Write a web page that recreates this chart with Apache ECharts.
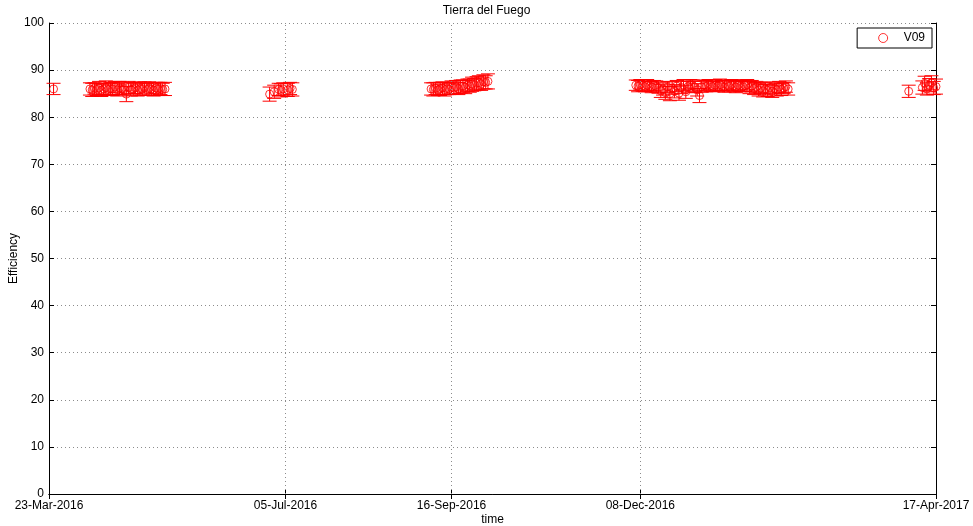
<!DOCTYPE html>
<html>
<head>
<meta charset="utf-8">
<script src="https://cdn.jsdelivr.net/npm/echarts@6/dist/echarts.min.js"></script>
<style>
html,body{margin:0;padding:0;background:#fff;}
#chart{width:973px;height:526px;}
</style>
</head>
<body>
<div id="chart"></div>
<script>
// ---- data ----
const chartTitle = 'Tierra del Fuego';
const seriesName = 'V09';
const tickDates = ['2016-03-23', '2016-07-05', '2016-09-16', '2016-12-08', '2017-04-17'];
const tickLabels = ['23-Mar-2016', '05-Jul-2016', '16-Sep-2016', '08-Dec-2016', '17-Apr-2017'];
const yTicks = [0, 10, 20, 30, 40, 50, 60, 70, 80, 90, 100];

const obsDates = [
  '2016-03-25',
  '2016-04-10','2016-04-11','2016-04-12','2016-04-13','2016-04-14','2016-04-15','2016-04-16','2016-04-17','2016-04-18','2016-04-19',
  '2016-04-20','2016-04-21','2016-04-22','2016-04-23','2016-04-24','2016-04-25','2016-04-26','2016-04-27','2016-04-28','2016-04-29',
  '2016-04-30','2016-05-01','2016-05-02','2016-05-03','2016-05-04','2016-05-05','2016-05-06','2016-05-07','2016-05-08','2016-05-09',
  '2016-05-10','2016-05-11','2016-05-12','2016-05-13',
  '2016-06-28','2016-06-30','2016-07-02','2016-07-03','2016-07-04','2016-07-06','2016-07-07','2016-07-08',
  '2016-09-07','2016-09-08','2016-09-09','2016-09-10','2016-09-11','2016-09-12','2016-09-13','2016-09-14','2016-09-15','2016-09-16',
  '2016-09-17','2016-09-18','2016-09-19','2016-09-20','2016-09-21','2016-09-22','2016-09-23','2016-09-24','2016-09-25','2016-09-26',
  '2016-09-27','2016-09-28','2016-09-29','2016-09-30','2016-10-01','2016-10-02',
  '2016-12-06','2016-12-07','2016-12-08','2016-12-09','2016-12-10','2016-12-11','2016-12-12','2016-12-13','2016-12-14','2016-12-15',
  '2016-12-16','2016-12-17','2016-12-18','2016-12-19','2016-12-20','2016-12-21','2016-12-22','2016-12-23','2016-12-24','2016-12-25',
  '2016-12-26','2016-12-27','2016-12-28','2016-12-29','2016-12-30','2016-12-31',
  '2017-01-01','2017-01-02','2017-01-03','2017-01-04','2017-01-05','2017-01-06','2017-01-07','2017-01-08','2017-01-09','2017-01-10',
  '2017-01-11','2017-01-12','2017-01-13','2017-01-14','2017-01-15','2017-01-16','2017-01-17','2017-01-18','2017-01-19','2017-01-20',
  '2017-01-21','2017-01-22','2017-01-23','2017-01-24','2017-01-25','2017-01-26','2017-01-27','2017-01-28','2017-01-29','2017-01-30',
  '2017-01-31',
  '2017-02-01','2017-02-02','2017-02-03','2017-02-04','2017-02-05','2017-02-06','2017-02-07','2017-02-08','2017-02-09','2017-02-10',
  '2017-02-11',
  '2017-04-05','2017-04-11','2017-04-12','2017-04-13','2017-04-14','2017-04-15','2017-04-16','2017-04-17'
];

const efficiency = [
  86.0,
  86.0,85.8,86.1,85.9,86.2,85.7,86.0,86.3,85.9,86.1,
  86.0,86.4,85.8,86.2,86.0,86.1,84.9,86.3,85.9,86.0,
  86.2,85.8,86.1,86.0,86.3,85.9,86.1,86.0,85.8,86.2,
  86.0,86.1,85.9,86.0,
  84.9,85.4,85.9,85.7,86.0,85.8,86.1,85.9,
  86.0,85.9,86.1,85.8,86.0,86.2,85.9,86.1,86.0,86.3,
  86.2,86.4,86.1,86.5,86.6,86.4,86.8,86.7,87.0,86.9,
  87.2,87.3,87.1,87.5,87.4,87.6,
  86.8,86.6,86.9,86.7,86.5,86.8,86.6,86.4,86.7,86.5,
  86.3,85.6,86.0,85.2,86.4,85.0,86.2,85.5,86.6,85.1,
  86.3,86.8,85.4,86.5,86.9,86.7,
  86.4,85.8,84.6,86.5,86.8,86.6,86.9,86.7,86.5,86.8,
  86.6,86.9,86.7,86.5,86.8,86.6,86.9,86.7,86.4,86.8,
  86.6,86.5,86.7,86.9,86.3,86.6,86.1,86.4,85.8,86.2,
  85.6,
  86.0,85.7,86.3,85.5,86.1,85.8,86.4,85.9,86.2,86.5,
  86.0,
  85.5,86.3,87.2,86.0,86.8,87.3,86.2,86.5
];

const errorBar = [
  1.2,
  1.3,1.4,1.2,1.3,1.4,1.3,1.2,1.4,1.3,1.3,
  1.4,1.2,1.3,1.4,1.3,1.2,1.6,1.3,1.4,1.3,
  1.2,1.3,1.4,1.3,1.2,1.3,1.4,1.3,1.3,1.2,
  1.4,1.3,1.3,1.4,
  1.5,1.4,1.3,1.4,1.3,1.4,1.3,1.4,
  1.3,1.4,1.3,1.2,1.4,1.3,1.4,1.3,1.2,1.4,
  1.3,1.4,1.3,1.4,1.3,1.4,1.3,1.4,1.5,1.3,
  1.4,1.5,1.4,1.5,1.4,1.6,
  1.1,1.2,1.1,1.2,1.1,1.2,1.1,1.2,1.1,1.2,
  1.2,1.4,1.3,1.4,1.2,1.5,1.3,1.4,1.2,1.5,
  1.3,1.2,1.4,1.2,1.1,1.2,
  1.2,1.3,1.5,1.2,1.1,1.2,1.1,1.2,1.1,1.2,
  1.1,1.2,1.1,1.2,1.1,1.2,1.1,1.2,1.2,1.1,
  1.2,1.1,1.2,1.1,1.3,1.2,1.3,1.2,1.3,1.2,
  1.3,
  1.3,1.3,1.2,1.3,1.2,1.3,1.2,1.3,1.2,1.2,
  1.3,
  1.3,1.4,1.5,1.3,1.4,1.5,1.4,1.6
];

// ---- build ----
function toTs(s) {
  const p = s.split('-').map(Number);
  return Date.UTC(p[0], p[1] - 1, p[2]);
}
const tickTimes = tickDates.map(toTs);
const xMin = tickTimes[0], xMax = tickTimes[tickTimes.length - 1];
const n = Math.min(obsDates.length, efficiency.length, errorBar.length);
const points = [];
const bars = [];
for (let i = 0; i < n; i++) {
  const t = toTs(obsDates[i]);
  points.push([t, efficiency[i]]);
  bars.push([t, efficiency[i], errorBar[i]]);
}
const fontFamily = '"Liberation Sans", Arial, Helvetica, sans-serif';
const gridDash = { color: '#8c8c8c', width: 1, type: [1, 3] };

const chart = echarts.init(document.getElementById('chart'), null, { renderer: 'canvas' });
chart.setOption({
  animation: false,
  backgroundColor: '#fff',
  textStyle: { fontFamily: fontFamily },
  title: {
    text: chartTitle,
    left: 'center',
    top: 0,
    textStyle: { fontSize: 12, fontWeight: 'normal', color: '#000', fontFamily: fontFamily }
  },
  legend: {
    data: [{ name: seriesName, icon: 'circle', itemStyle: { color: 'transparent', borderColor: '#ff0000', borderWidth: 1 } }],
    right: 41,
    top: 28,
    orient: 'horizontal',
    backgroundColor: '#fff',
    borderColor: '#000',
    borderWidth: 1,
    borderRadius: 0,
    padding: [4, 7, 4, 21],
    itemWidth: 9,
    itemHeight: 9,
    textStyle: { fontSize: 12, color: '#000', fontFamily: fontFamily, padding: [0, 0, 0, 11] }
  },
  grid: { left: 49, right: 37, top: 23, bottom: 32, containLabel: false, outerBoundsMode: 'none' },
  xAxis: [
    {
      type: 'value',
      min: xMin,
      max: xMax,
      position: 'bottom',
      name: 'time',
      nameLocation: 'middle',
      nameGap: 20,
      nameMoveOverlap: false,
      nameTextStyle: { fontSize: 12, color: '#000', fontFamily: fontFamily },
      axisLine: { show: true, lineStyle: { color: '#000', width: 1 } },
      axisTick: { show: true, inside: true, length: 5, lineStyle: { color: '#000' }, customValues: tickTimes },
      axisLabel: {
        show: true, color: '#000', fontSize: 12, margin: 6, fontFamily: fontFamily,
        customValues: tickTimes,
        showMinLabel: true, showMaxLabel: true, hideOverlap: false,
        formatter: function (v) {
          const i = tickTimes.indexOf(v);
          return i >= 0 ? tickLabels[i] : '';
        }
      },
      splitLine: { show: false }
    },
    {
      type: 'value',
      min: xMin,
      max: xMax,
      position: 'top',
      axisLine: { show: true, lineStyle: { color: '#000', width: 1 } },
      axisTick: { show: true, inside: true, length: 5, lineStyle: { color: '#000' }, customValues: tickTimes },
      axisLabel: { show: false },
      splitLine: { show: false }
    }
  ],
  yAxis: [
    {
      type: 'value',
      min: yTicks[0],
      max: yTicks[yTicks.length - 1],
      interval: 10,
      position: 'left',
      name: 'Efficiency',
      nameLocation: 'middle',
      nameGap: 29,
      nameMoveOverlap: false,
      nameRotate: 90,
      nameTextStyle: { fontSize: 12, color: '#000', fontFamily: fontFamily },
      axisLine: { show: true, lineStyle: { color: '#000', width: 1 } },
      axisTick: { show: true, inside: true, length: 5, lineStyle: { color: '#000' } },
      axisLabel: { color: '#000', fontSize: 12, margin: 5, fontFamily: fontFamily },
      splitLine: { show: true, lineStyle: gridDash }
    },
    {
      type: 'value',
      min: yTicks[0],
      max: yTicks[yTicks.length - 1],
      interval: 10,
      position: 'right',
      axisLine: { show: true, lineStyle: { color: '#000', width: 1 } },
      axisTick: { show: true, inside: true, length: 5, lineStyle: { color: '#000' } },
      axisLabel: { show: false },
      splitLine: { show: false }
    }
  ],
  series: [
    {
      type: 'custom',
      name: 'errorbars',
      xAxisIndex: 0,
      yAxisIndex: 0,
      data: bars,
      encode: { x: 0, y: 1 },
      silent: true,
      z: 3,
      renderItem: function (params, api) {
        const x = api.value(0), y = api.value(1), e = api.value(2);
        const top = api.coord([x, y + e]);
        const bot = api.coord([x, y - e]);
        const hw = 7;
        const st = { stroke: '#ff0000', lineWidth: 1 };
        return {
          type: 'group',
          children: [
            { type: 'line', shape: { x1: top[0], y1: top[1], x2: bot[0], y2: bot[1] }, style: st },
            { type: 'line', shape: { x1: top[0] - hw, y1: top[1], x2: top[0] + hw, y2: top[1] }, style: st },
            { type: 'line', shape: { x1: bot[0] - hw, y1: bot[1], x2: bot[0] + hw, y2: bot[1] }, style: st }
          ]
        };
      }
    },
    {
      type: 'scatter',
      name: seriesName,
      xAxisIndex: 0,
      yAxisIndex: 0,
      data: points,
      symbol: 'circle',
      symbolSize: 8,
      z: 4,
      itemStyle: { color: 'transparent', borderColor: '#ff0000', borderWidth: 1 },
      emphasis: { disabled: true },
      markLine: {
        silent: true,
        symbol: ['none', 'none'],
        label: { show: false },
        lineStyle: gridDash,
        emphasis: { disabled: true },
        data: tickTimes.slice(1, tickTimes.length - 1).map(function (t) { return { xAxis: t }; })
      }
    }
  ]
});
</script>
</body>
</html>
